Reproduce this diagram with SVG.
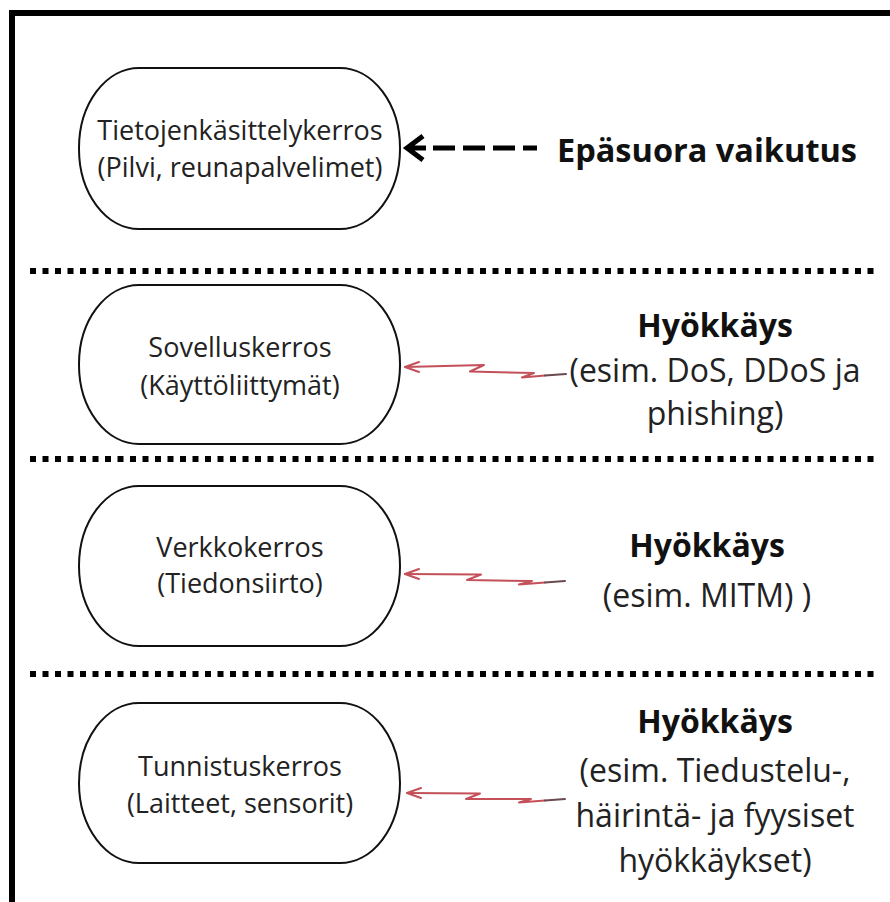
<svg xmlns="http://www.w3.org/2000/svg" width="890" height="902" viewBox="0 0 890 902">
<style>
.frame{fill:none;stroke:#000;stroke-width:6}
.sep{stroke:#000;stroke-width:6;stroke-dasharray:6 6.5}
.node rect{fill:#fff;stroke:#111;stroke-width:2}
.nt{font-family:"Open Sans","Liberation Sans",sans-serif;font-size:27px;fill:#222;text-anchor:middle}
.lb{font-family:"Open Sans","Liberation Sans",sans-serif;font-size:32px;fill:#222;text-anchor:middle}
.lb .b{font-weight:bold;fill:#111}
.ind{fill:none;stroke:#000;stroke-width:5}
.atk{fill:none;stroke:#c4505a;stroke-width:2;stroke-linejoin:round;stroke-linecap:round}
.atk2{fill:none;stroke:#6a4a4e;stroke-width:2;stroke-linecap:round}
</style>
<rect class="frame" x="12" y="13" width="900" height="895"/>
<g id="separators">
<line class="sep" x1="30" y1="271" x2="877" y2="271"/>
<line class="sep" x1="30" y1="459" x2="877" y2="459"/>
<line class="sep" x1="30" y1="674" x2="877" y2="674"/>
</g>
<g id="node-processing" class="node">
<rect x="79" y="68" width="321" height="161" rx="60" ry="80"/>
<text class="nt" x="240" y="140">Tietojenkäsittelykerros</text>
<text class="nt" x="240" y="177">(Pilvi, reunapalvelimet)</text>
</g>
<g id="node-application" class="node">
<rect x="79" y="285" width="321" height="159" rx="60" ry="79"/>
<text class="nt" x="240" y="357">Sovelluskerros</text>
<text class="nt" x="240" y="395">(Käyttöliittymät)</text>
</g>
<g id="node-network" class="node">
<rect x="79" y="486" width="321" height="160" rx="60" ry="80"/>
<text class="nt" x="240" y="557">Verkkokerros</text>
<text class="nt" x="240" y="593">(Tiedonsiirto)</text>
</g>
<g id="node-perception" class="node">
<rect x="79" y="703" width="321" height="160" rx="60" ry="80"/>
<text class="nt" x="240" y="776">Tunnistuskerros</text>
<text class="nt" x="240" y="813">(Laitteet, sensorit)</text>
</g>
<g id="label-indirect" class="lb">
<text class="b" x="707" y="162" style="font-size:32.5px">Epäsuora vaikutus</text>
</g>
<g id="label-attack-app" class="lb">
<text class="b" x="715" y="337">Hyökkäys</text>
<text x="715" y="382">(esim. DoS, DDoS ja</text>
<text x="715" y="425">phishing)</text>
</g>
<g id="label-attack-net" class="lb">
<text class="b" x="707" y="557">Hyökkäys</text>
<text x="707" y="607">(esim. MITM) )</text>
</g>
<g id="label-attack-perc" class="lb">
<text class="b" x="715" y="733">Hyökkäys</text>
<text x="715" y="782">(esim. Tiedustelu-,</text>
<text x="715" y="827">häirintä- ja fyysiset</text>
<text x="715" y="872">hyökkäykset)</text>
</g>
<g id="connectors">
<path class="ind" d="M423,136 L407,148 L423,160 M407,148 L426,148"/>
<line class="ind" x1="433" y1="148" x2="537" y2="148" stroke-dasharray="22 8"/>
<g id="attack-app">
<path class="atk" d="M405,367 L484,365 L470,371.5 L534,373 L522,377.5 L545,375.5"/>
<path class="atk2" d="M545,375.5 L566,374"/>
<path class="atk" d="M419,362 L405,367 L419,372"/>
</g>
<g id="attack-net">
<path class="atk" d="M405,574 L481,574.5 L467,580 L532,581 L519,584.5 L545,582.5"/>
<path class="atk2" d="M545,582.5 L565,581"/>
<path class="atk" d="M419,569 L405,574 L419,579"/>
</g>
<g id="attack-perc">
<path class="atk" d="M407,793 L480,793.5 L466,799 L531,799 L519,802.5 L545,800.5"/>
<path class="atk2" d="M545,800.5 L565,799"/>
<path class="atk" d="M421,788 L407,793 L421,798"/>
</g>
</g>
</svg>
